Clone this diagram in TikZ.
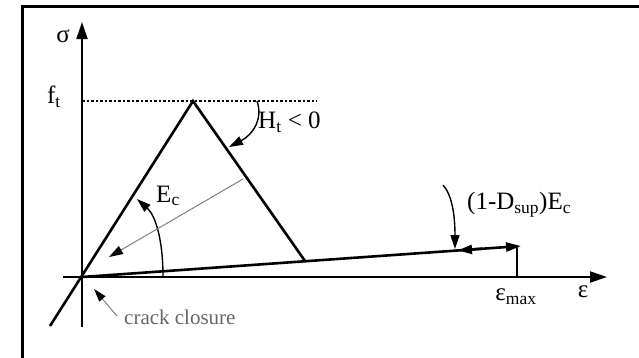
\documentclass[tikz,border=0pt]{standalone}
\usepackage{fontspec}
\setmainfont{Liberation Serif}
\usetikzlibrary{arrows.meta}
\begin{document}
\begin{tikzpicture}[x=1pt, y=-1pt]
  % Styles
  \tikzstyle{curve}=[line width=2.6pt]
  \tikzstyle{axis}=[line width=2.2pt, -{Triangle[length=17pt,width=11pt]}]
  \tikzstyle{pointer}=[line width=1.4pt, -{Triangle[length=14pt,width=9pt]}]
  \tikzstyle{label}=[inner sep=0pt, font=\fontsize{25}{27}\selectfont]
  \useasboundingbox (0,0) rectangle (639,357);
  \clip (0,0) rectangle (639,357);

  % Frame
  \draw[line width=3pt] (22,380) -- (22,6) -- (660,6);

  % Points
  \coordinate (O) at (82,277);
  \coordinate (ytop) at (82,22);
  \coordinate (ybot) at (82,327);
  \coordinate (xleft) at (63,277);
  \coordinate (xright) at (607,277);
  \coordinate (peak) at (193,101);
  \coordinate (low) at (50,326);
  \coordinate (soft) at (305,261);
  \coordinate (emax) at (521,246);
  \coordinate (emaxtop) at (517,246);
  \coordinate (emaxfoot) at (517,277);
  \coordinate (ftleft) at (82,101);
  \coordinate (ftright) at (317,101);

  % Axes
  \draw[axis] (ybot) -- (ytop);
  \draw[axis] (xleft) -- (xright);
  \node[label] (sigma) at (63,36) {σ};
  \node[label] (eps) at (583,292) {ε};
  \node[label] (ft) at (54,97) {f\textsubscript{t}};
  \draw[line width=2pt, dash pattern=on 2.5pt off 2pt] (ftleft) -- (ftright);

  % Loading, softening and unloading
  \draw[curve] (low) -- (peak) -- (soft);
  \draw[curve, -{Triangle[length=15pt,width=9pt]}] (O) -- (emax);
  \draw[curve] (emaxtop) -- (emaxfoot);
  \coordinate (back1) at (482,248.7);
  \coordinate (back2) at (458,250.4);
  \draw[curve, -{Triangle[length=14pt,width=9pt]}] (back1) -- (back2);
  \node[label] (epsmax) at (516,297) {ε\textsubscript{max}};

  % Stiffness E_c
  \coordinate (arcstart) at (163,277);
  \coordinate (arcend) at (137,199);
  \draw[pointer] (arcstart) .. controls (163,238) and (155,215) .. (arcend);
  \node[label] (Ec) at (168,196) {E\textsubscript{c}};
  \coordinate (unl1) at (243,179);
  \coordinate (unl2) at (109,257);
  \draw[gray, line width=1pt, -{Triangle[length=14pt,width=9pt,color=black]}] (unl1) -- (unl2);

  % Softening modulus
  \coordinate (htstart) at (257,101);
  \coordinate (htend) at (229,147);
  \draw[pointer] (htstart) .. controls (263,118) and (254,134) .. (htend);
  \node[label, anchor=west] (Ht) at (258,122) {H\textsubscript{t} < 0};

  % Damaged stiffness
  \coordinate (dstart) at (443,185);
  \coordinate (dend) at (455,249);
  \draw[pointer] (dstart) .. controls (452,195) and (455,215) .. (dend);
  \node[label, anchor=west] (Dsup) at (467,205) {(1-D\textsubscript{sup})E\textsubscript{c}};

  % Crack closure
  \node[inner sep=0pt, anchor=west, gray!80!black, font=\fontsize{21}{23}\selectfont] (closure) at (124,317) {crack closure};
  \coordinate (cstart) at (117,316);
  \coordinate (cend) at (94,289);
  \draw[gray, line width=1pt, -{Triangle[length=13pt,width=8pt,color=black]}] (cstart) -- (cend);
\end{tikzpicture}
\end{document}
